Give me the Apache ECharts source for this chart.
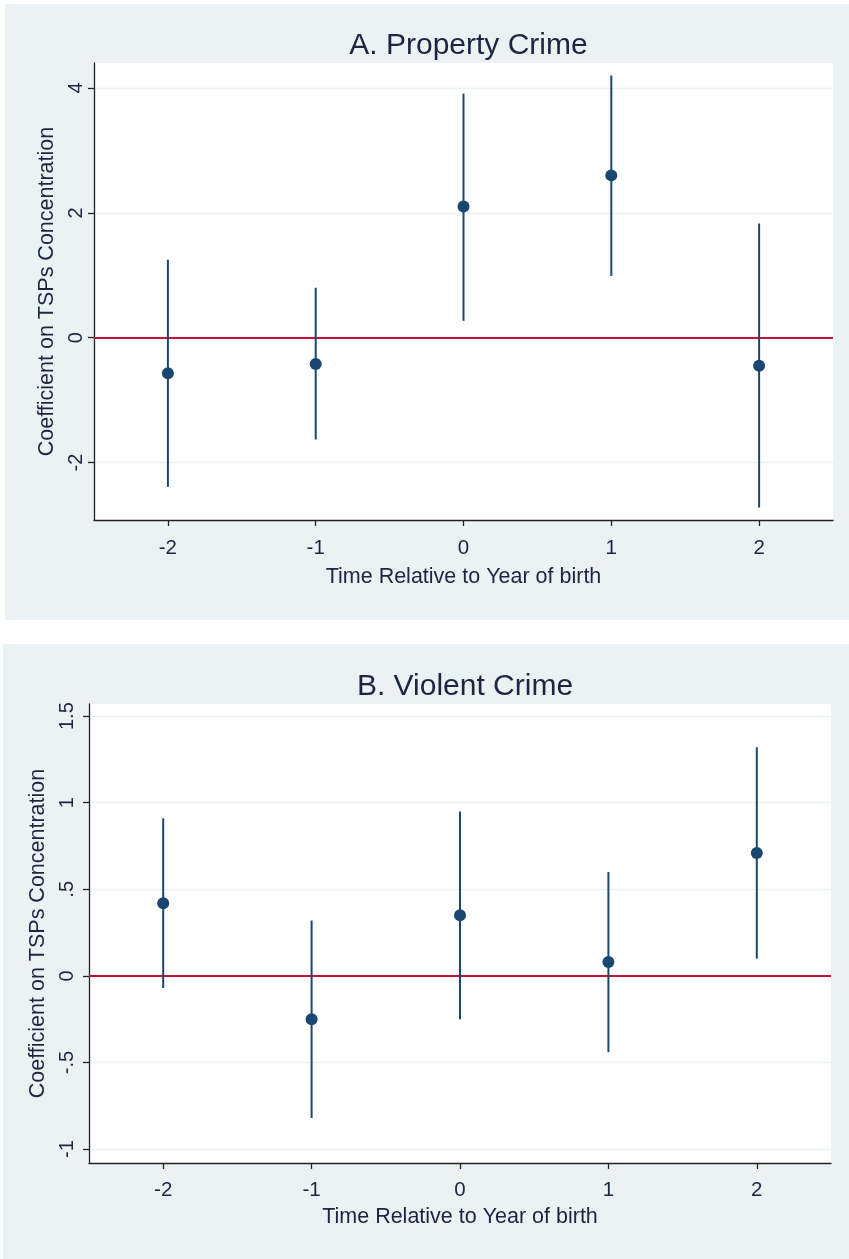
<!DOCTYPE html>
<html>
<head>
<meta charset="utf-8">
<script src="https://cdn.jsdelivr.net/npm/echarts@6/dist/echarts.min.js"></script>
<style>
  html, body { margin: 0; padding: 0; background: #ffffff; width: 849px; height: 1259px; overflow: hidden; }
  .panel { position: absolute; background: #eaf2f3; }
  #chartA { left: 5px; top: 4px; width: 844px; height: 616px; }
  #chartB { left: 3px; top: 644px; width: 846px; height: 615px; }
</style>
</head>
<body>
<div id="chartA" class="panel"></div>
<div id="chartB" class="panel"></div>
<script>
// ---- Data ----
const periods = [-2, -1, 0, 1, 2];
const xTicks = [-2, -1, 0, 1, 2];

// Panel A: Property Crime
const propertyCoef  = [-0.57, -0.42, 2.10, 2.60, -0.45];
const propertyLower = [-2.39, -1.63, 0.27, 0.99, -2.72];
const propertyUpper = [ 1.25,  0.80, 3.91, 4.20,  1.83];
const propertyYTicks = [-2, 0, 2, 4];

// Panel B: Violent Crime
const violentCoef  = [ 0.42, -0.25,  0.35,  0.08, 0.71];
const violentLower = [-0.07, -0.82, -0.25, -0.44, 0.10];
const violentUpper = [ 0.91,  0.32,  0.95,  0.60, 1.32];
const violentYTicks = [-1, -0.5, 0, 0.5, 1, 1.5];

const FONT = '"Liberation Sans", Arial, sans-serif';
const NAVY = '#1a476f';
const TEXT = '#1c2541';

function fmtStata(v) {
  if (v === 0) return '0';
  let s = String(v);
  s = s.replace(/^0\./, '.').replace(/^-0\./, '-.');
  return s;
}

function buildOption(title, coef, lower, upper, yTicks, yMin, yMax, g) {
  const ciData = periods.map((p, i) => [p, lower[i], upper[i]]);
  const ptData = periods.map((p, i) => [p, coef[i]]);
  const titleCenter = g.left + (g.width - g.left - g.right) / 2;
  return {
    animation: false,
    backgroundColor: 'transparent',
    title: {
      text: title,
      left: titleCenter,
      textAlign: 'center',
      top: g.titleTop,
      textStyle: { fontFamily: FONT, fontSize: 30, fontWeight: 'normal', color: TEXT }
    },
    grid: {
      left: g.left, right: g.right, top: g.top, height: g.height,
      show: true, backgroundColor: '#ffffff', borderWidth: 0
    },
    xAxis: {
      type: 'value',
      min: -2.5, max: 2.5,
      name: 'Time Relative to Year of birth',
      nameLocation: 'middle',
      nameGap: g.xNameGap,
      nameTextStyle: { fontFamily: FONT, fontSize: 21.5, color: TEXT },
      axisLine: { show: true, onZero: false, lineStyle: { color: '#222222', width: 1.3 } },
      axisTick: { show: true, length: 6, customValues: xTicks, lineStyle: { color: '#222222', width: 1.3 } },
      axisLabel: { customValues: xTicks, fontFamily: FONT, fontSize: 20.5, color: TEXT, margin: g.xLabelMargin,
                   formatter: v => String(v) },
      splitLine: { show: false }
    },
    yAxis: {
      type: 'value',
      min: yMin, max: yMax,
      name: 'Coefficient on TSPs Concentration',
      nameLocation: 'middle',
      nameGap: g.yNameGap,
      nameRotate: 90,
      nameTextStyle: { fontFamily: FONT, fontSize: 21.5, color: TEXT },
      axisLine: { show: true, onZero: false, lineStyle: { color: '#222222', width: 1.3 } },
      axisTick: { show: true, length: 6, customValues: yTicks, lineStyle: { color: '#222222', width: 1.3 } },
      axisLabel: { customValues: yTicks, rotate: 90, fontFamily: FONT, fontSize: 20, color: TEXT, margin: g.yLabelMargin,
                   formatter: v => fmtStata(v) },
      splitLine: { show: true, lineStyle: { color: '#eaf2f3', width: 1.3 } }
    },
    series: [
      {
        type: 'custom',
        data: ciData,
        z: 3,
        renderItem: function (params, api) {
          const a = api.coord([api.value(0), api.value(1)]);
          const b = api.coord([api.value(0), api.value(2)]);
          return {
            type: 'line',
            shape: { x1: a[0], y1: a[1], x2: b[0], y2: b[1] },
            style: { stroke: NAVY, lineWidth: 2 }
          };
        },
        markLine: {
          silent: true,
          symbol: 'none',
          label: { show: false },
          lineStyle: { color: '#c8103c', width: 1.8, type: 'solid' },
          data: [{ yAxis: 0 }],
          z: 2
        }
      },
      {
        type: 'scatter',
        data: ptData,
        symbol: 'circle',
        symbolSize: 12,
        itemStyle: { color: NAVY, opacity: 1 },
        z: 4
      }
    ]
  };
}

const chartA = echarts.init(document.getElementById('chartA'), null, { renderer: 'canvas' });
chartA.setOption(buildOption('A. Property Crime', propertyCoef, propertyLower, propertyUpper,
  propertyYTicks, -2.92, 4.40,
  { width: 844, left: 89, right: 16, top: 59, height: 457, titleTop: 22,
    yNameGap: 34, yLabelMargin: 8, xNameGap: 46, xLabelMargin: 18 }));

const chartB = echarts.init(document.getElementById('chartB'), null, { renderer: 'canvas' });
chartB.setOption(buildOption('B. Violent Crime', violentCoef, violentLower, violentUpper,
  violentYTicks, -1.08, 1.57,
  { width: 846, left: 86, right: 18, top: 60, height: 459, titleTop: 23,
    yNameGap: 35, yLabelMargin: 12, xNameGap: 43, xLabelMargin: 17 }));
</script>
</body>
</html>
